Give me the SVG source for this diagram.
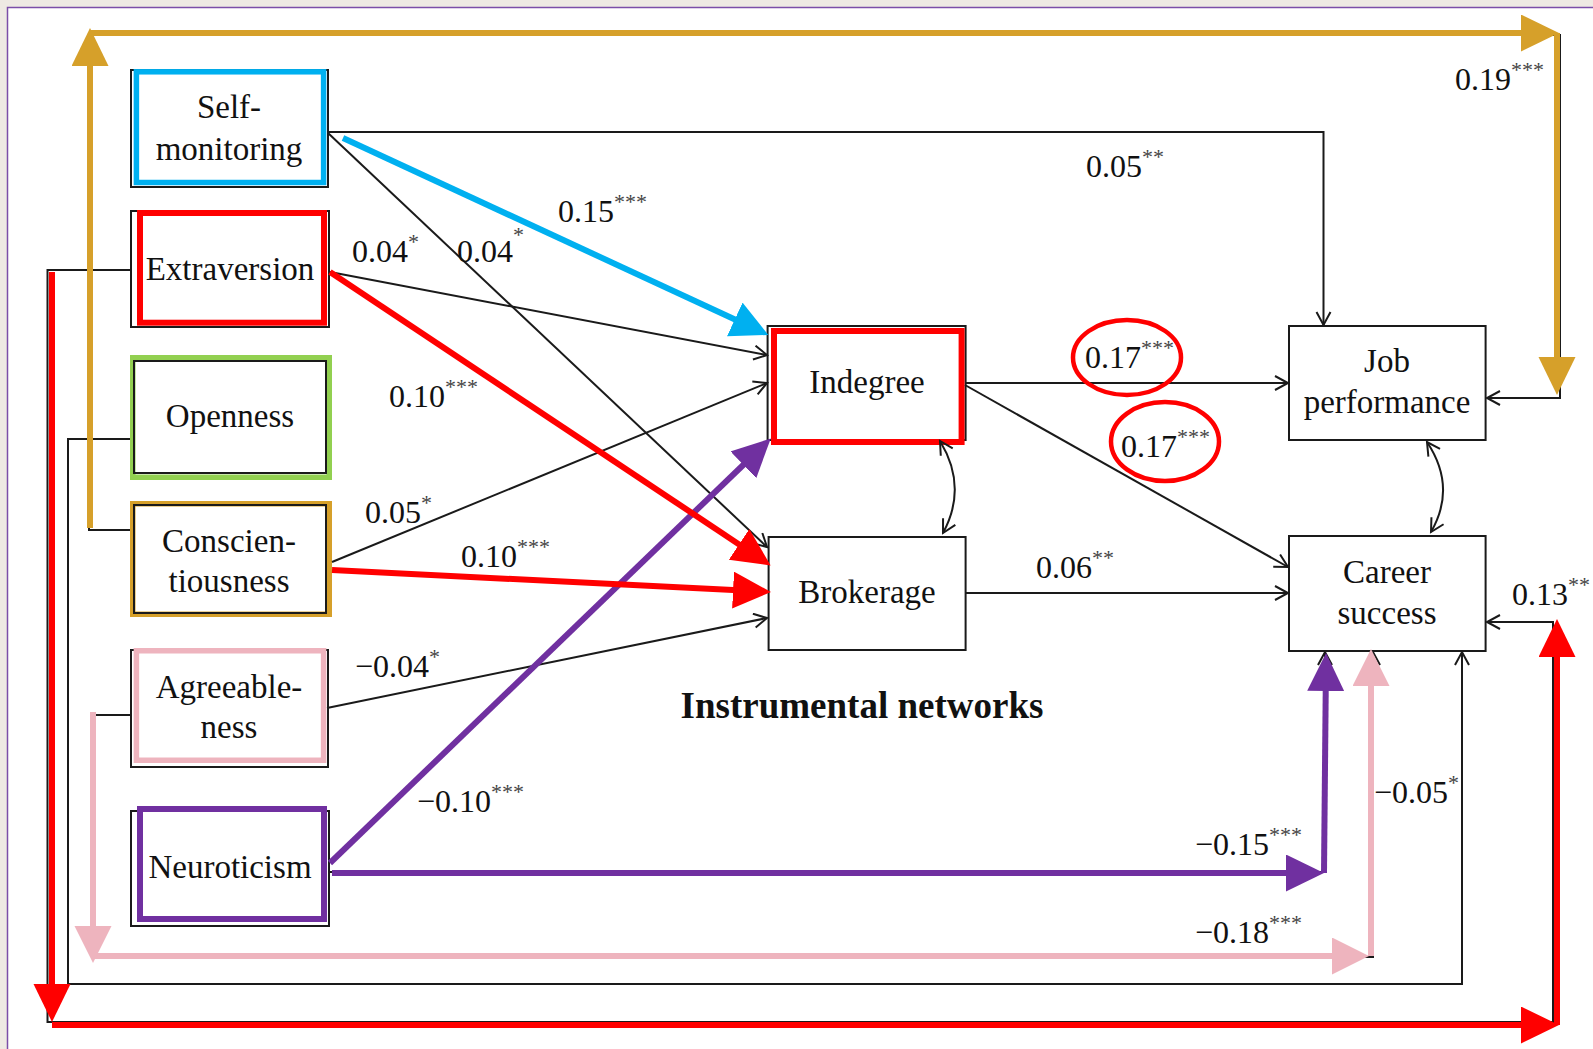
<svg xmlns="http://www.w3.org/2000/svg" width="1593" height="1049" viewBox="0 0 1593 1049">
<style>
.box{fill:#fff;stroke:#1a1a1a;stroke-width:2}
.t{font-family:"Liberation Serif","Times New Roman",serif;font-size:33px;text-anchor:middle;fill:#111}
.l{font-family:"Liberation Serif","Times New Roman",serif;font-size:32px;fill:#111}
.s{font-size:22px;fill:#444}
.k{fill:none;stroke:#1a1a1a;stroke-width:2}
.c{fill:none;stroke-width:6}
.ell{fill:none;stroke:#ff0000;stroke-width:4.5}
</style>
<defs>
<marker id="ah" markerUnits="userSpaceOnUse" markerWidth="18" markerHeight="18" refX="14" refY="8" orient="auto-start-reverse"><path d="M1,1 L14,8 L1,15" fill="none" stroke="#1a1a1a" stroke-width="2"/></marker>
<marker id="aGold" markerUnits="userSpaceOnUse" markerWidth="40" markerHeight="40" refX="30" refY="18.5" orient="auto"><path d="M0,0 L38,18.5 L0,37 Z" fill="#D6A02A"/></marker>
<marker id="aRed" markerUnits="userSpaceOnUse" markerWidth="40" markerHeight="40" refX="30" refY="18.5" orient="auto"><path d="M0,0 L38,18.5 L0,37 Z" fill="#FF0000"/></marker>
<marker id="aPink" markerUnits="userSpaceOnUse" markerWidth="40" markerHeight="40" refX="30" refY="18.5" orient="auto"><path d="M0,0 L37,18.5 L0,37 Z" fill="#EEB4BE"/></marker>
<marker id="aPurple" markerUnits="userSpaceOnUse" markerWidth="40" markerHeight="40" refX="30" refY="18.5" orient="auto"><path d="M0,0 L38,18.5 L0,37 Z" fill="#7030A0"/></marker>
<marker id="aBlue" markerUnits="userSpaceOnUse" markerWidth="40" markerHeight="40" refX="30" refY="18.5" orient="auto"><path d="M0,0 L37,18.5 L0,37 Z" fill="#00B0F0"/></marker>
</defs>
<rect x="0" y="0" width="1593" height="1049" fill="#EEEAE3"/>
<rect x="7.5" y="7.5" width="1620" height="1100" fill="#fff" stroke="#7B4FA8" stroke-width="1.5"/>

<g id="nodes">
<g id="self-monitoring">
<rect class="box" x="131" y="70" width="197" height="117"/>
<rect x="136.4" y="71.8" width="187.2" height="110.7" fill="none" stroke="#00B0F0" stroke-width="5.5"/>
<text class="t" x="229" y="118">Self-</text>
<text class="t" x="229" y="160">monitoring</text>
</g>
<g id="extraversion">
<rect class="box" x="131" y="211" width="198" height="116"/>
<rect x="140" y="213" width="184" height="109.7" fill="none" stroke="#FF0000" stroke-width="6"/>
<text class="t" x="230" y="280">Extraversion</text>
</g>
<g id="openness">
<rect x="132.75" y="357.75" width="196.5" height="119.5" fill="#fff" stroke="#92D050" stroke-width="5.5"/>
<rect x="134" y="361" width="192" height="112" fill="none" stroke="#1a1a1a" stroke-width="2"/>
<text class="t" x="230" y="427">Openness</text>
</g>
<g id="conscientiousness">
<rect x="132.75" y="503.75" width="196.5" height="110.5" fill="#fff" stroke="#D6A02A" stroke-width="5.5"/>
<rect x="134" y="505" width="192" height="108" fill="none" stroke="#1a1a1a" stroke-width="2"/>
<text class="t" x="229" y="552">Conscien-</text>
<text class="t" x="229" y="592">tiousness</text>
</g>
<g id="agreeableness">
<rect class="box" x="131" y="650" width="197" height="117"/>
<rect x="136.4" y="650.75" width="187.2" height="109.5" fill="none" stroke="#EEB4BE" stroke-width="5.5"/>
<text class="t" x="229" y="698">Agreeable-</text>
<text class="t" x="229" y="738">ness</text>
</g>
<g id="neuroticism">
<rect class="box" x="131" y="811" width="198" height="115"/>
<rect x="140" y="809" width="184" height="110" fill="none" stroke="#7030A0" stroke-width="6"/>
<text class="t" x="230" y="878">Neuroticism</text>
</g>
<g id="indegree">
<rect class="box" x="767.6" y="326" width="198" height="114"/>
<rect x="774" y="331" width="187.6" height="111" fill="none" stroke="#FF0000" stroke-width="6"/>
<text class="t" x="867" y="393">Indegree</text>
</g>
<g id="brokerage">
<rect class="box" x="768.6" y="537" width="197" height="113"/>
<text class="t" x="867" y="603">Brokerage</text>
</g>
<g id="job-performance">
<rect class="box" x="1289" y="326" width="196.6" height="114"/>
<text class="t" x="1387" y="372">Job</text>
<text class="t" x="1387" y="413">performance</text>
</g>
<g id="career-success">
<rect class="box" x="1289" y="536" width="196.6" height="115"/>
<text class="t" x="1387" y="583">Career</text>
<text class="t" x="1387" y="624">success</text>
</g>
</g>

<g id="connectors">
<!-- black paths -->
<path class="k" d="M130,530 H89 V35 H1560 V398 H1487" marker-end="url(#ah)"/>
<path class="k" d="M131,270 H47.5 V1022 H1553 V622 H1487" marker-end="url(#ah)"/>
<path class="k" d="M130,439 H68 V984 H1462 V652" marker-end="url(#ah)"/>
<path class="k" d="M131,715 H92 V957 H1373 V652" marker-end="url(#ah)"/>
<path class="k" d="M329,872 H1325 V652" marker-end="url(#ah)"/>
<path class="k" d="M328,132 H1323.5 V325" marker-end="url(#ah)"/>
<path class="k" d="M328,133 L767,547" marker-end="url(#ah)"/>
<path class="k" d="M330,272 L767,355" marker-end="url(#ah)"/>
<path class="k" d="M332,562 L767,383" marker-end="url(#ah)"/>
<path class="k" d="M327,708 L767,618" marker-end="url(#ah)"/>
<path class="k" d="M965,383 H1288" marker-end="url(#ah)"/>
<path class="k" d="M965,385 L1288,567" marker-end="url(#ah)"/>
<path class="k" d="M965,593 H1288" marker-end="url(#ah)"/>
<path class="k" d="M940,441 Q968,487 943,533" marker-start="url(#ah)" marker-end="url(#ah)"/>
<path class="k" d="M1427,442 Q1457,487 1431,532" marker-start="url(#ah)" marker-end="url(#ah)"/>
<!-- coloured overlays -->
<path class="c" stroke="#D6A02A" d="M90,528 V36" marker-end="url(#aGold)"/>
<path class="c" stroke="#D6A02A" d="M90,33 H1551" marker-end="url(#aGold)"/>
<path class="c" stroke="#D6A02A" d="M1557,33 V387" marker-end="url(#aGold)"/>
<path class="c" stroke="#FF0000" d="M52,272 V1014" marker-end="url(#aRed)"/>
<path class="c" stroke="#FF0000" d="M52,1025 H1551" marker-end="url(#aRed)"/>
<path class="c" stroke="#FF0000" d="M1557,1025 V627" marker-end="url(#aRed)"/>
<path class="c" stroke="#EEB4BE" d="M93,712 V956" marker-end="url(#aPink)"/>
<path class="c" stroke="#EEB4BE" d="M93,956 H1362" marker-end="url(#aPink)"/>
<path class="c" stroke="#EEB4BE" d="M1371,956 V656" marker-end="url(#aPink)"/>
<path class="c" stroke="#7030A0" d="M332,873 H1316" marker-end="url(#aPurple)"/>
<path class="c" stroke="#7030A0" d="M1324,873 L1326,661" marker-end="url(#aPurple)"/>
<path class="c" stroke="#7030A0" d="M330,863 L765,444" marker-end="url(#aPurple)"/>
<path class="c" stroke="#00B0F0" stroke-width="5.5" d="M343,138 L762,332" marker-end="url(#aBlue)"/>
<path class="c" stroke="#FF0000" d="M330,272 L764,561" marker-end="url(#aRed)"/>
<path class="c" stroke="#FF0000" d="M332,570 L763,591.6" marker-end="url(#aRed)"/>
<!-- highlight ellipses -->
<ellipse class="ell" cx="1127" cy="357.5" rx="54" ry="37.5"/>
<ellipse class="ell" cx="1165" cy="441.5" rx="54" ry="39.5"/>
<!-- labels -->
<text class="l" x="352" y="262">0.04<tspan class="s" dy="-13">*</tspan></text>
<text class="l" x="457" y="262">0.04<tspan class="s" dy="-20">*</tspan></text>
<text class="l" x="558" y="222">0.15<tspan class="s" dy="-13">***</tspan></text>
<text class="l" x="1086" y="177">0.05<tspan class="s" dy="-13">**</tspan></text>
<text class="l" x="1455" y="90">0.19<tspan class="s" dy="-13">***</tspan></text>
<text class="l" x="389" y="407">0.10<tspan class="s" dy="-13">***</tspan></text>
<text class="l" x="1085" y="368">0.17<tspan class="s" dy="-13">***</tspan></text>
<text class="l" x="1121" y="457">0.17<tspan class="s" dy="-13">***</tspan></text>
<text class="l" x="365" y="523">0.05<tspan class="s" dy="-13">*</tspan></text>
<text class="l" x="461" y="567">0.10<tspan class="s" dy="-13">***</tspan></text>
<text class="l" x="1036" y="578">0.06<tspan class="s" dy="-13">**</tspan></text>
<text class="l" x="1512" y="605">0.13<tspan class="s" dy="-13">**</tspan></text>
<text class="l" x="355" y="677">−0.04<tspan class="s" dy="-13">*</tspan></text>
<text class="l" x="417" y="812">−0.10<tspan class="s" dy="-13">***</tspan></text>
<text class="l" x="1374" y="803">−0.05<tspan class="s" dy="-13">*</tspan></text>
<text class="l" x="1195" y="855">−0.15<tspan class="s" dy="-13">***</tspan></text>
<text class="l" x="1195" y="943">−0.18<tspan class="s" dy="-13">***</tspan></text>
</g>
<text x="862" y="718" font-family="Liberation Serif, Times New Roman, serif" font-size="37" font-weight="bold" text-anchor="middle" fill="#111">Instrumental networks</text>
</svg>
